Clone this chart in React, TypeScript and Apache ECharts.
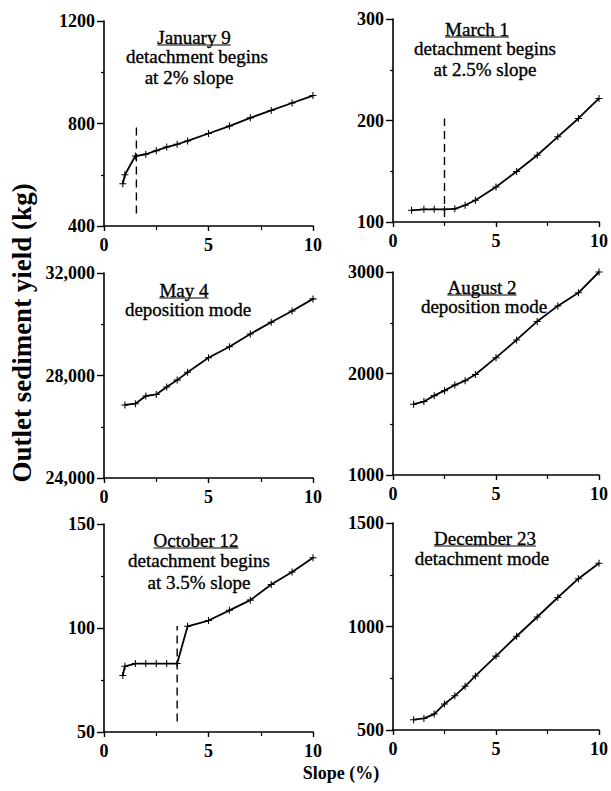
import React, { useEffect, useRef } from "react";
import * as echarts from "echarts";

// ---- data (slope %, outlet sediment yield kg) ----
const slopesJan = [0.9, 1.0, 1.5, 2, 2.5, 3, 3.5, 4, 5, 6, 7, 8, 9, 10];
const janYield = [565, 600, 673, 680, 694, 708, 719, 732, 761, 790, 822, 851, 880, 909];

const slopesMar = [0.9, 1.5, 2, 2.5, 3, 3.5, 4, 5, 6, 7, 8, 9, 10];
const marYield = [111.5, 112.5, 112.5, 112.5, 113, 116.5, 121.4, 134.5, 149.7, 165.8, 183.9, 202, 221.7];

const slopesMay = [1, 1.5, 2, 2.5, 3, 3.5, 4, 5, 6, 7, 8, 9, 10];
const mayYield = [26850, 26900, 27200, 27260, 27550, 27820, 28130, 28690, 29120, 29620, 30080, 30520, 30990];

const slopesAug = [1, 1.5, 2, 2.5, 3, 3.5, 4, 5, 6, 7, 8, 9, 10];
const augYield = [1698, 1724, 1782, 1831, 1886, 1929, 1990, 2156, 2331, 2513, 2666, 2795, 3000];

const slopesOct = [0.9, 1.0, 1.5, 2, 2.5, 3, 3.5, 4, 5, 6, 7, 8, 9, 10];
const octYield = [77.2, 81.6, 82.9, 82.9, 82.9, 82.9, 82.9, 100.8, 103.6, 108.5, 113.4, 120.9, 126.9, 133.8];

const slopesDec = [1, 1.5, 2, 2.5, 3, 3.5, 4, 5, 6, 7, 8, 9, 10];
const decYield = [550, 556, 577, 626, 665, 711, 761, 857, 953, 1046, 1140, 1231, 1306];

// detachment threshold markers: [slope, yield from, yield to]
const janThreshold = [1.55, 449, 804];
const marThreshold = [2.5, 105, 202];
const octThreshold = [3.5, 55, 101];

const yMins = [400, 100, 24000, 1000, 50, 500];
const yMaxs = [1200, 300, 32000, 3000, 150, 1500];
const yIntervals = [400, 100, 4000, 1000, 50, 500];

const panelTitles = ["January 9", "March 1", "May 4", "August 2", "October 12", "December 23"];
const panelNotes = [
  ["detachment begins", "at 2% slope"],
  ["detachment begins", "at 2.5% slope"],
  ["deposition mode"],
  ["deposition mode"],
  ["detachment begins", "at 3.5% slope"],
  ["detachment mode"],
];

const yAxisTitle = "Outlet sediment yield (kg)";
const xAxisTitle = "Slope (%)";

const FAMILY = "Liberation Serif";
const PLUS = "path://M-0.6,-4 L0.6,-4 L0.6,-0.6 L4,-0.6 L4,0.6 L0.6,0.6 L0.6,4 L-0.6,4 L-0.6,0.6 L-4,0.6 L-4,-0.6 L-0.6,-0.6 Z";

const grids = [
  { left: 104, top: 21, width: 209, height: 205 },
  { left: 393, top: 19, width: 208, height: 203 },
  { left: 104, top: 273, width: 209, height: 205 },
  { left: 393, top: 272, width: 208, height: 203 },
  { left: 104, top: 524, width: 209, height: 208 },
  { left: 393, top: 523, width: 208, height: 207 },
];

// annotation anchor (center x, line y) per panel
const notePos = [
  [[194, 37], [197, 56], [189, 77]],
  [[477, 29], [485, 48], [485, 69]],
  [[184, 290], [188, 309]],
  [[482, 287], [484, 306]],
  [[196, 540], [199, 560], [199, 582]],
  [[485, 538], [482, 558]],
];

const TITLE_SIZE = 19;

function measure(text: string, font: string): number {
  const c = document.createElement("canvas").getContext("2d");
  if (!c) return text.length * 9;
  c.font = font;
  return c.measureText(text).width;
}

export default function App() {
  const ref = useRef<HTMLDivElement>(null);
  useEffect(() => {
    if (!ref.current) return;
    const chart = echarts.init(ref.current, undefined, { renderer: "svg" });

    const seriesData = [
      [slopesJan, janYield],
      [slopesMar, marYield],
      [slopesMay, mayYield],
      [slopesAug, augYield],
      [slopesOct, octYield],
      [slopesDec, decYield],
    ];
    const thresholds: { [k: number]: number[] } = { 0: janThreshold, 1: marThreshold, 4: octThreshold };

    const xAxis = grids.map((_, i) => ({
      type: "value",
      gridIndex: i,
      min: 0,
      max: 10,
      interval: 5,
      axisLine: { show: true, onZero: false, lineStyle: { color: "#000", width: 1.6 } },
      axisTick: { show: true, length: 5, lineStyle: { color: "#000", width: 1.4 } },
      minorTick: { show: true, splitNumber: 2, length: 4, lineStyle: { color: "#000", width: 1.2 } },
      splitLine: { show: false },
      axisLabel: { color: "#000", fontFamily: FAMILY, fontSize: 18, fontWeight: "bold", margin: 10 },
    }));

    const yAxis = grids.map((_, i) => ({
      type: "value",
      gridIndex: i,
      min: yMins[i],
      max: yMaxs[i],
      interval: yIntervals[i],
      axisLine: { show: true, onZero: false, lineStyle: { color: "#000", width: 1.6 } },
      axisTick: { show: true, length: 7, lineStyle: { color: "#000", width: 1.4 } },
      minorTick: { show: true, splitNumber: 2, length: 3, lineStyle: { color: "#000", width: 1.2 } },
      splitLine: { show: false },
      axisLabel: {
        color: "#000",
        fontFamily: FAMILY,
        fontSize: 18,
        fontWeight: "bold",
        margin: 9,
        formatter: (v: number) => (v >= 10000 ? v.toLocaleString("en-US") : String(v)),
      },
    }));

    const series: any[] = [];
    seriesData.forEach(([xs, ys], i) => {
      series.push({
        type: "line",
        xAxisIndex: i,
        yAxisIndex: i,
        data: xs.map((x, k) => [x, ys[k]]),
        symbol: PLUS,
        symbolSize: 7,
        showSymbol: true,
        itemStyle: { color: "#000" },
        lineStyle: { color: "#000", width: 1.8 },
        silent: true,
      });
      const t = thresholds[i];
      if (t) {
        series.push({
          type: "line",
          xAxisIndex: i,
          yAxisIndex: i,
          data: [[t[0], t[1]], [t[0], t[2]]],
          symbol: "none",
          lineStyle: { color: "#000", width: 1.4, type: [8, 5] },
          silent: true,
        });
      }
    });

    const graphic: any[] = [];
    panelTitles.forEach((title, i) => {
      const pos = notePos[i];
      const lines = [title, ...panelNotes[i]];
      lines.forEach((txt, k) => {
        graphic.push({
          type: "text",
          x: pos[k][0],
          y: pos[k][1],
          style: {
            text: txt,
            fontFamily: FAMILY,
            fontSize: TITLE_SIZE,
            fontWeight: "normal",
            fill: "#000",
            stroke: "#000",
            lineWidth: 0.35,
            textAlign: "center",
            textVerticalAlign: "middle",
          },
        });
      });
      const w = measure(title, `${TITLE_SIZE}px "${FAMILY}"`);
      graphic.push({
        type: "line",
        shape: { x1: pos[0][0] - w / 2, y1: pos[0][1] + 8, x2: pos[0][0] + w / 2, y2: pos[0][1] + 8 },
        style: { stroke: "#000", lineWidth: 1 },
      });
    });
    graphic.push({
      type: "text",
      x: 22,
      y: 333,
      rotation: Math.PI / 2,
      style: {
        text: yAxisTitle,
        fontFamily: FAMILY,
        fontSize: 27,
        fontWeight: "bold",
        fill: "#000",
        textAlign: "center",
        textVerticalAlign: "middle",
      },
    });
    graphic.push({
      type: "text",
      x: 341,
      y: 773,
      style: {
        text: xAxisTitle,
        fontFamily: FAMILY,
        fontSize: 18,
        fontWeight: "bold",
        fill: "#000",
        textAlign: "center",
        textVerticalAlign: "middle",
      },
    });

    chart.setOption({
      animation: false,
      backgroundColor: "#fff",
      grid: grids,
      xAxis,
      yAxis,
      series,
      graphic,
    });
    return () => chart.dispose();
  }, []);

  return (
    <div
      ref={ref}
      style={{ position: "absolute", left: 0, top: 0, width: 611, height: 791, background: "#fff" }}
    />
  );
}
